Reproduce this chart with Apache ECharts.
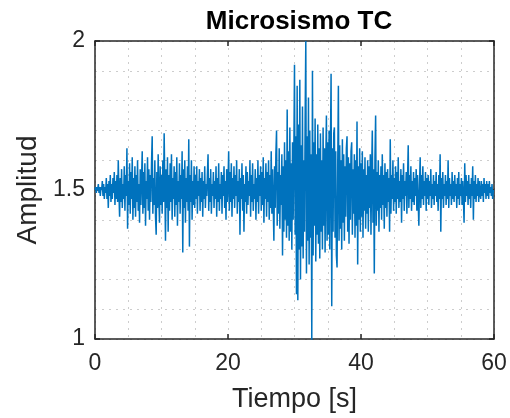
<!DOCTYPE html>
<html>
<head>
<meta charset="utf-8">
<script src="https://cdn.jsdelivr.net/npm/echarts@6/dist/echarts.min.js"></script>
<style>
  html, body { margin: 0; padding: 0; background: #fff; }
  #chart { width: 510px; height: 418px; }
</style>
</head>
<body>
<div id="chart"></div>
<script>
// muestreo de la señal: 10 muestras por segundo
const sampleInterval = 0.1
const xTicks = [0, 20, 40, 60]
const yTicks = [1, 1.5, 2]

// amplitud, una fila por segundo
const amplitude = [
  1.50,1.51,1.49,1.51,1.50,1.52,1.49,1.51,1.48,1.51,
  1.50,1.53,1.48,1.52,1.47,1.51,1.49,1.54,1.47,1.52,
  1.44,1.53,1.48,1.55,1.46,1.52,1.47,1.54,1.49,1.56,
  1.45,1.53,1.47,1.55,1.46,1.60,1.49,1.41,1.54,1.46,
  1.57,1.44,1.52,1.47,1.58,1.43,1.55,1.48,1.64,1.37,
  1.53,1.45,1.59,1.42,1.56,1.47,1.61,1.40,1.54,1.44,
  1.58,1.41,1.55,1.46,1.60,1.43,1.52,1.39,1.57,1.45,
  1.54,1.63,1.42,1.56,1.44,1.59,1.38,1.53,1.47,1.61,
  1.43,1.57,1.40,1.55,1.46,1.59,1.68,1.42,1.54,1.45,
  1.60,1.41,1.35,1.56,1.44,1.62,1.47,1.39,1.58,1.45,
  1.55,1.42,1.60,1.46,1.69,1.52,1.33,1.57,1.44,1.61,
  1.36,1.55,1.43,1.59,1.46,1.62,1.40,1.54,1.47,1.58,
  1.41,1.56,1.45,1.61,1.38,1.53,1.46,1.59,1.42,1.55,
  1.47,1.63,1.29,1.57,1.44,1.60,1.39,1.54,1.46,1.58,
  1.43,1.67,1.31,1.55,1.46,1.60,1.40,1.53,1.45,1.58,
  1.44,1.55,1.47,1.58,1.42,1.53,1.48,1.57,1.43,1.54,
  1.46,1.56,1.41,1.53,1.47,1.58,1.44,1.52,1.48,1.55,
  1.62,1.43,1.54,1.46,1.57,1.42,1.52,1.48,1.56,1.44,
  1.53,1.47,1.58,1.41,1.54,1.46,1.59,1.43,1.52,1.47,
  1.56,1.42,1.55,1.48,1.58,1.44,1.53,1.40,1.57,1.46,
  1.52,1.63,1.43,1.56,1.46,1.59,1.41,1.54,1.47,1.58,
  1.44,1.55,1.48,1.60,1.42,1.53,1.46,1.57,1.35,1.54,
  1.47,1.59,1.43,1.55,1.36,1.52,1.46,1.58,1.42,1.56,
  1.45,1.53,1.48,1.60,1.41,1.55,1.46,1.59,1.43,1.52,
  1.47,1.57,1.40,1.54,1.46,1.60,1.42,1.55,1.48,1.58,
  1.43,1.56,1.45,1.61,1.39,1.54,1.47,1.59,1.41,1.56,
  1.46,1.60,1.40,1.55,1.44,1.63,1.42,1.57,1.45,1.33,
  1.58,1.44,1.62,1.70,1.38,1.56,1.42,1.64,1.37,1.55,
  1.45,1.62,1.28,1.58,1.36,1.66,1.40,1.60,1.34,1.77,
  1.38,1.63,1.33,1.71,1.36,1.59,1.30,1.66,1.40,1.62,
  1.92,1.35,1.68,1.15,1.85,1.13,1.72,1.30,1.87,1.20,
  1.65,1.31,1.78,1.27,1.60,1.36,1.74,2.00,1.22,1.68,
  1.33,1.81,1.25,1.70,1.34,1.62,0.99,1.90,1.28,1.66,
  1.38,1.74,1.26,1.62,1.35,1.72,1.32,1.64,1.27,1.69,
  1.36,1.60,1.30,1.71,1.38,1.64,1.29,1.59,1.75,1.33,
  1.66,1.35,1.70,1.30,1.62,1.89,1.11,1.64,1.36,1.69,
  1.71,1.34,1.63,1.28,1.24,1.58,1.85,1.33,1.65,1.37,
  1.60,1.30,1.67,1.39,1.62,1.33,1.58,1.41,1.64,1.68,
  1.36,1.61,1.32,1.59,1.40,1.63,1.66,1.35,1.57,1.42,
  1.62,1.34,1.60,1.38,1.73,1.25,1.58,1.40,1.64,1.36,
  1.59,1.41,1.63,1.34,1.57,1.43,1.61,1.37,1.55,1.42,
  1.60,1.36,1.58,1.44,1.62,1.35,1.56,1.70,1.39,1.57,
  1.22,1.61,1.75,1.38,1.56,1.43,1.60,1.36,1.55,1.44,
  1.58,1.40,1.62,1.45,1.55,1.37,1.59,1.44,1.56,1.41,
  1.57,1.46,1.54,1.36,1.67,1.42,1.55,1.47,1.60,1.43,
  1.54,1.46,1.58,1.42,1.56,1.47,1.61,1.44,1.53,1.46,
  1.57,1.39,1.55,1.47,1.59,1.43,1.53,1.48,1.56,1.42,
  1.54,1.65,1.44,1.55,1.47,1.58,1.43,1.53,1.46,1.56,
  1.45,1.54,1.48,1.57,1.43,1.55,1.46,1.38,1.52,1.61,
  1.44,1.55,1.47,1.58,1.45,1.53,1.48,1.56,1.43,1.54,
  1.47,1.55,1.45,1.53,1.48,1.57,1.44,1.52,1.47,1.55,
  1.45,1.53,1.48,1.56,1.46,1.52,1.43,1.55,1.47,1.62,
  1.36,1.54,1.47,1.56,1.44,1.52,1.48,1.55,1.45,1.53,
  1.47,1.60,1.44,1.54,1.48,1.52,1.45,1.56,1.47,1.53,
  1.46,1.55,1.48,1.52,1.44,1.54,1.47,1.56,1.45,1.52,
  1.48,1.54,1.45,1.53,1.47,1.39,1.59,1.46,1.55,1.48,
  1.53,1.45,1.55,1.47,1.52,1.44,1.54,1.48,1.58,1.40,
  1.53,1.47,1.55,1.46,1.52,1.48,1.54,1.46,1.53,1.49,
  1.47,1.53,1.48,1.52,1.46,1.54,1.49,1.52,1.47,1.53,
  1.48,1.52,1.47,1.53,1.49,1.51,1.48,1.52,1.47,1.50,
  1.50
]

const signal = amplitude.map((v, i) => [+(i * sampleInterval).toFixed(1), v])

const fontFamily = '"Liberation Sans", Arial, sans-serif'
const axisColor = '#262626'
const gridLine = { show: true, lineStyle: { color: '#cdcdcd', type: [2, 5], width: 1 } }

const chart = echarts.init(document.getElementById('chart'), null, { renderer: 'canvas' })

const xBase = {
  type: 'value',
  min: xTicks[0],
  max: xTicks[xTicks.length - 1],
  interval: xTicks[1] - xTicks[0],
  axisLine: { show: true, onZero: false, lineStyle: { color: axisColor, width: 1.5 } },
  axisTick: { show: true, inside: true, length: 5, lineStyle: { color: axisColor, width: 1.5 } },
  minorTick: { show: false, splitNumber: 4 },
  splitLine: gridLine,
  minorSplitLine: gridLine
}

const yBase = {
  type: 'value',
  min: yTicks[0],
  max: yTicks[yTicks.length - 1],
  interval: yTicks[1] - yTicks[0],
  axisLine: { show: true, onZero: false, lineStyle: { color: axisColor, width: 1.5 } },
  axisTick: { show: true, inside: true, length: 5, lineStyle: { color: axisColor, width: 1.5 } },
  minorTick: { show: false, splitNumber: 5 },
  splitLine: gridLine,
  minorSplitLine: gridLine
}

const option = {
  animation: false,
  backgroundColor: '#fff',
  title: {
    text: 'Microsismo TC',
    left: 294,
    top: 4,
    textAlign: 'center',
    textStyle: { fontFamily, fontSize: 26, fontWeight: 'bold', color: '#000' }
  },
  grid: { left: 95, right: 16, top: 41, bottom: 77 },
  xAxis: [
    Object.assign({}, xBase, {
      position: 'bottom',
      name: 'Tiempo [s]',
      nameLocation: 'middle',
      nameGap: 47,
      nameTextStyle: { fontFamily, fontSize: 27, color: axisColor },
      axisLabel: { show: true, margin: 13, fontFamily, fontSize: 23, color: axisColor }
    }),
    Object.assign({}, xBase, {
      position: 'top',
      axisLabel: { show: false },
      splitLine: { show: false },
      minorSplitLine: { show: false }
    })
  ],
  yAxis: [
    Object.assign({}, yBase, {
      position: 'left',
      name: 'Amplitud',
      nameLocation: 'middle',
      nameGap: 50,
      nameTextStyle: { fontFamily, fontSize: 28, color: axisColor },
      axisLabel: { show: true, margin: 10, fontFamily, fontSize: 23, color: axisColor }
    }),
    Object.assign({}, yBase, {
      position: 'right',
      axisLabel: { show: false },
      splitLine: { show: false },
      minorSplitLine: { show: false }
    })
  ],
  series: [
    {
      type: 'line',
      data: signal,
      xAxisIndex: 0,
      yAxisIndex: 0,
      showSymbol: false,
      sampling: false,
      clip: true,
      lineStyle: { color: '#0072BD', width: 1.5 }
    }
  ]
}

chart.setOption(option)
</script>
</body>
</html>
